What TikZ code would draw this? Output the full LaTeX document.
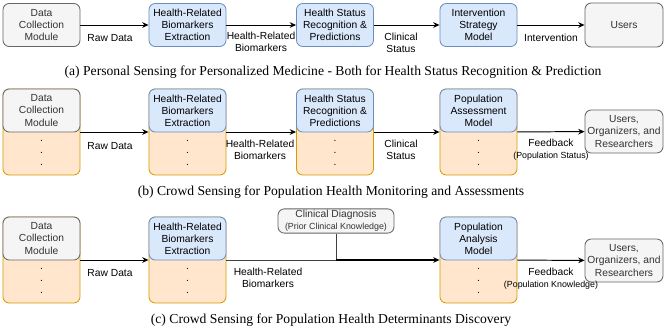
\documentclass[tikz,border=0pt]{standalone}
\usepackage{fontspec}
\setmainfont{Liberation Sans}
\newfontfamily\capfont{Liberation Serif}
\usepackage{tikz}
\usetikzlibrary{arrows.meta,positioning,calc}

\definecolor{drawgrey}{HTML}{666666}
\definecolor{fillgrey}{HTML}{F5F5F5}
\definecolor{textgrey}{HTML}{333333}
\definecolor{drawblue}{HTML}{6C8EBF}
\definecolor{fillblue}{HTML}{DAE8FC}
\definecolor{draworange}{HTML}{D79B00}
\definecolor{fillorange}{HTML}{FFE6CC}

\newcommand{\boxfont}{\fontsize{7.3pt}{8.6pt}\selectfont}
\newcommand{\smallfont}{\fontsize{6.3pt}{7.6pt}\selectfont}
\newcommand{\captionfont}{\capfont\fontsize{9.7pt}{11pt}\selectfont}

\tikzset{
  >={Stealth[length=4.5pt,width=4pt]},
  box/.style={rounded corners=4.5pt, line width=0.6pt, align=center, font=\boxfont,
    minimum width=1.925cm, minimum height=1.075cm, inner sep=1pt},
  greybox/.style={box, draw=drawgrey, fill=fillgrey, text=textgrey},
  bluebox/.style={box, draw=drawblue, fill=fillblue},
  orangebox/.style={box, draw=draworange, fill=fillorange, minimum height=2.15cm},
  userbox/.style={greybox, minimum width=1.95cm, minimum height=1.1cm},
  lbl/.style={font=\boxfont, align=center, inner sep=0pt},
  dot/.style={font=\boxfont, inner sep=0pt},
  conn/.style={->, line width=0.7pt},
  caption/.style={font=\captionfont, inner sep=0pt},
}

\begin{document}
\begin{tikzpicture}[x=0.025cm, y=-0.025cm]
        \useasboundingbox (0,0) rectangle (665,331);

        % (a) Personal sensing
        \node[greybox] (dcma) at (41.5,25) {Data\\Collection\\Module};
        \node[bluebox] (hrba) at (187.5,25) {Health-Related\\Biomarkers\\Extraction};
        \node[bluebox] (hsra) at (335,25) {Health Status\\Recognition \&\\Predictions};
        \node[bluebox] (isma) at (478.5,25) {Intervention\\Strategy\\Model};
        \node[userbox] (usra) at (624,25) {Users};
        \draw[conn] (dcma) -- (hrba);
        \draw[conn] (hrba) -- (hsra);
        \draw[conn] (hsra) -- (isma);
        \draw[conn] (isma) -- (usra);
        \node[lbl] at (110,38) {Raw Data};
        \node[lbl] at (261,42) {Health-Related\\Biomarkers};
        \node[lbl] at (401,43) {Clinical\\Status};
        \node[lbl] at (551,38) {Intervention};
        \node[caption] (capa) at (333,72) {(a) Personal Sensing for Personalized Medicine - Both for Health Status Recognition \& Prediction};

        % (b) Crowd sensing, monitoring
        \foreach \n/\x in {dcmb/41.5, hrbb/187.5, hsrb/335, pamb/478.5} {
          \node[orangebox] (\n) at (\x,132) {};
          \foreach \d in {-12,0,12}
            \node[dot] at ($(\n)+(0,21+\d)$) {.};
        }
        \node[greybox, anchor=north] (dcmbh) at (dcmb.north) {Data\\Collection\\Module};
        \node[bluebox, anchor=north] (hrbbh) at (hrbb.north) {Health-Related\\Biomarkers\\Extraction};
        \node[bluebox, anchor=north] (hsrbh) at (hsrb.north) {Health Status\\Recognition \&\\Predictions};
        \node[bluebox, anchor=north] (pambh) at (pamb.north) {Population\\Assessment\\Model};
        \node[userbox, minimum height=1.075cm] (usrb) at (624,131.5) {Users,\\Organizers, and\\Researchers};
        \draw[conn] (dcmb) -- (hrbb);
        \draw[conn] (hrbb) -- (hsrb);
        \draw[conn] (hsrb) -- (pamb);
        \draw[conn] (pamb) -- (usrb);
        \node[lbl] at (110,146) {Raw Data};
        \node[lbl] at (260,149.5) {Health-Related\\Biomarkers};
        \node[lbl] at (401,149.5) {Clinical\\Status};
        \node[lbl] at (551,143) {Feedback};
        \node[lbl, font=\smallfont] at (551,156) {(Population Status)};
        \node[caption] (capb) at (331,192) {(b) Crowd Sensing for Population Health Monitoring and Assessments};

        % (c) Crowd sensing, determinants
        \foreach \n/\x in {dcmc/41.5, hrbc/187.5, pamc/478.5} {
          \node[orangebox] (\n) at (\x,260) {};
          \foreach \d in {-12,0,12}
            \node[dot] at ($(\n)+(0,21+\d)$) {.};
        }
        \node[greybox, anchor=north] (dcmch) at (dcmc.north) {Data\\Collection\\Module};
        \node[bluebox, anchor=north] (hrbch) at (hrbc.north) {Health-Related\\Biomarkers\\Extraction};
        \node[bluebox, anchor=north] (pamch) at (pamc.north) {Population\\Analysis\\Model};
        \node[userbox, minimum height=1.075cm] (usrc) at (624,260.5) {Users,\\Organizers, and\\Researchers};
        \node[greybox, minimum width=2.9cm, minimum height=0.6cm] (clin) at (336,221)
          {Clinical Diagnosis\\{\smallfont(Prior Clinical Knowledge)}};
        \coordinate (jn) at (clin |- pamc);
        \draw[conn] (dcmc) -- (hrbc);
        \draw[line width=0.7pt, black!75] (hrbc) -- (jn);
        \draw[line width=0.7pt, black!75] (clin) -- (jn);
        \draw[conn, line width=1pt] (jn) -- (pamc);
        \draw[conn] (pamc) -- (usrc);
        \node[lbl] at (110,273) {Raw Data};
        \node[lbl] at (268,278) {Health-Related\\Biomarkers};
        \node[lbl] at (551,272) {Feedback};
        \node[lbl, font=\smallfont] at (551,285) {(Population Knowledge)};
        \node[caption] (capc) at (331,320) {(c) Crowd Sensing for Population Health Determinants Discovery};
\end{tikzpicture}
\end{document}
